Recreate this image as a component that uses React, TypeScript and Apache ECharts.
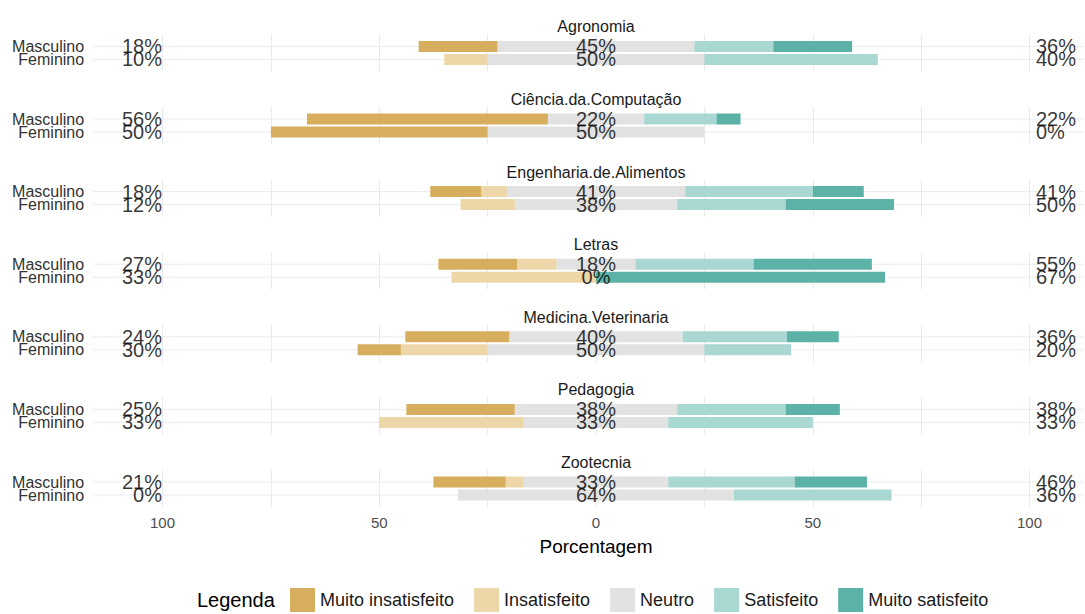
import React, { useEffect, useRef } from "react";
import * as echarts from "echarts";

// ---------- data ----------
const courses = [
  "Agronomia",
  "Ciência.da.Computação",
  "Engenharia.de.Alimentos",
  "Letras",
  "Medicina.Veterinaria",
  "Pedagogia",
  "Zootecnia",
];
const genders = ["Masculino", "Feminino"];
const levels = ["Muito insatisfeito", "Insatisfeito", "Neutro", "Satisfeito", "Muito satisfeito"];
const levelColors = ["#D7AE5E", "#EDD7A8", "#E2E2E2", "#A9D7D2", "#5CB2A6"];

// [Masculino, Feminino] per course, percentages
const muitoInsatisfeito = [[18.18, 0], [55.56, 50], [11.76, 0], [18.18, 0], [24, 10], [25, 0], [16.67, 0]];
const insatisfeito = [[0, 10], [0, 0], [5.88, 12.5], [9.09, 33.33], [0, 20], [0, 33.33], [4.17, 0]];
const neutro = [[45.45, 50], [22.22, 50], [41.18, 37.5], [18.18, 0], [40, 50], [37.5, 33.33], [33.33, 63.64]];
const satisfeito = [[18.18, 40], [16.67, 0], [29.41, 25], [27.27, 0], [24, 20], [25, 33.33], [29.17, 36.36]];
const muitoSatisfeito = [[18.18, 0], [5.56, 0], [11.76, 25], [27.27, 66.67], [12, 0], [12.5, 0], [16.67, 0]];

const xTickLabels = [-100, -50, 0, 50, 100];
const xGridValues = [-100, -75, -50, -25, 0, 25, 50, 75, 100];
const lowLabelAt = -100;
const highLabelAt = 100;

// ---------- layout ----------
const X_MIN = -116;
const X_MAX = 112.5;
const ZERO_X = 596;
const PX_PER = 4.335;
const GRID_LEFT = ZERO_X + X_MIN * PX_PER;
const GRID_WIDTH = (X_MAX - X_MIN) * PX_PER;
const FACET0 = 52.9;
const FACET_STEP = 72.6;
const FONT = "'Liberation Sans', Arial, sans-serif";

function roundHalfEven(v: number): number {
  const f = Math.floor(v);
  const d = v - f;
  if (Math.abs(d - 0.5) < 1e-9) return f % 2 === 0 ? f : f + 1;
  return Math.round(v);
}
const pct = (v: number) => roundHalfEven(v) + "%";

function buildOption() {
  const n = courses.length;
  const grids: any[] = [];
  const xAxes: any[] = [];
  const yAxes: any[] = [];
  const series: any[] = [];
  const graphics: any[] = [];

  // background grids (vertical gridlines, tick labels)
  for (let i = 0; i < n; i++) {
    const c = FACET0 + FACET_STEP * i;
    grids.push({ left: GRID_LEFT, width: GRID_WIDTH, top: c - 18.5, height: 37, containLabel: false });
    xAxes.push({
      gridIndex: i,
      type: "value",
      min: X_MIN,
      max: X_MAX,
      axisLine: { show: false },
      axisTick: { show: false, customValues: xGridValues },
      splitLine: { show: true, lineStyle: { color: "#EAEAEA", width: 1 } },
      axisLabel:
        i === n - 1
          ? {
              show: true,
              customValues: xTickLabels,
              formatter: (v: number) => String(Math.abs(v)),
              fontSize: 15,
              color: "#4D4D4D",
              fontFamily: FONT,
              margin: 8,
            }
          : { show: false },
    });
    yAxes.push({ gridIndex: i, type: "value", min: 0, max: 1, show: false });
    series.push({ type: "scatter", xAxisIndex: i, yAxisIndex: i, data: [], silent: true });
  }

  // foreground grids (bars)
  for (let i = 0; i < n; i++) {
    const c = FACET0 + FACET_STEP * i;
    const gi = n + i;
    grids.push({ left: GRID_LEFT, width: GRID_WIDTH, top: c - 13, height: 26, containLabel: false });
    xAxes.push({
      gridIndex: gi,
      type: "value",
      min: X_MIN,
      max: X_MAX,
      show: false,
      splitLine: { show: false },
    });
    yAxes.push({
      gridIndex: gi,
      type: "category",
      data: genders,
      inverse: true,
      axisLine: { show: false },
      axisTick: { show: false },
      splitLine: { show: false },
      axisLabel: { interval: 0, fontSize: 16, color: "#333333", fontFamily: FONT, margin: 9, hideOverlap: false },
    });

    // row gridlines
    genders.forEach((_, gIdx) => {
      series.push({
        type: "line",
        xAxisIndex: gi,
        yAxisIndex: gi,
        data: [[X_MIN, gIdx], [X_MAX, gIdx]],
        symbol: "none",
        silent: true,
        lineStyle: { color: "#EBEBEB", width: 1 },
        z: 1,
        animation: false,
      });
    });

    const bar = (name: string, vals: number[], color: string) => ({
      type: "bar",
      name,
      xAxisIndex: gi,
      yAxisIndex: gi,
      stack: "st" + i,
      barWidth: 11,
      silent: true,
      itemStyle: { color },
      data: vals,
      z: 2,
    });
    const M = 0, F = 1;
    series.push(bar("Neutro", [-neutro[i][M] / 2, -neutro[i][F] / 2], levelColors[2]));
    series.push(bar("Insatisfeito", [-insatisfeito[i][M], -insatisfeito[i][F]], levelColors[1]));
    series.push(bar("Muito insatisfeito", [-muitoInsatisfeito[i][M], -muitoInsatisfeito[i][F]], levelColors[0]));
    series.push(bar("Neutro", [neutro[i][M] / 2, neutro[i][F] / 2], levelColors[2]));
    series.push(bar("Satisfeito", [satisfeito[i][M], satisfeito[i][F]], levelColors[3]));
    series.push(bar("Muito satisfeito", [muitoSatisfeito[i][M], muitoSatisfeito[i][F]], levelColors[4]));

    const labelStyle = { show: true, fontSize: 20, color: "#000000", fontFamily: FONT };
    const low = [0, 1].map((g) => ({
      value: [lowLabelAt, g],
      label: { ...labelStyle, position: "left", distance: 0, formatter: pct(muitoInsatisfeito[i][g] + insatisfeito[i][g]) },
    }));
    const mid = [0, 1].map((g) => ({
      value: [0, g],
      label: { ...labelStyle, position: "inside", formatter: pct(neutro[i][g]) },
    }));
    const high = [0, 1].map((g) => ({
      value: [highLabelAt, g],
      label: { ...labelStyle, position: "right", distance: 6, formatter: pct(satisfeito[i][g] + muitoSatisfeito[i][g]) },
    }));
    series.push({
      type: "scatter",
      xAxisIndex: gi,
      yAxisIndex: gi,
      symbolSize: 1,
      itemStyle: { color: "rgba(0,0,0,0)" },
      silent: true,
      z: 5,
      labelLayout: { hideOverlap: false },
      data: [...low, ...mid, ...high],
    });

    graphics.push({
      type: "text",
      x: ZERO_X,
      y: c - 26,
      style: { text: courses[i], fontSize: 16, fill: "#1A1A1A", fontFamily: FONT, align: "center", verticalAlign: "middle" },
    });
  }

  graphics.push({
    type: "text",
    x: ZERO_X,
    y: 546.5,
    style: { text: "Porcentagem", fontSize: 19, fill: "#000000", fontFamily: FONT, align: "center", verticalAlign: "middle" },
  });
  graphics.push({
    type: "text",
    x: 197,
    y: 600,
    style: { text: "Legenda", fontSize: 20, fill: "#000000", fontFamily: FONT, align: "left", verticalAlign: "middle" },
  });

  return {
    animation: false,
    backgroundColor: "#FFFFFF",
    textStyle: { fontFamily: FONT },
    grid: grids,
    xAxis: xAxes,
    yAxis: yAxes,
    legend: {
      data: levels.map((name) => ({ name, icon: "rect" })),
      left: 285,
      top: 583,
      itemWidth: 25,
      itemHeight: 24,
      itemGap: 20,
      selectedMode: false,
      textStyle: { fontSize: 18, color: "#1A1A1A", fontFamily: FONT },
    },
    graphic: graphics,
    series,
  };
}

export default function App() {
  const ref = useRef<HTMLDivElement>(null);
  useEffect(() => {
    if (!ref.current) return;
    const chart = echarts.init(ref.current, undefined, { renderer: "svg" });
    chart.setOption(buildOption() as any);
    return () => chart.dispose();
  }, []);
  return (
    <div
      ref={ref}
      style={{ position: "fixed", left: 0, top: 0, width: 1085, height: 614, background: "#fff" }}
    />
  );
}
